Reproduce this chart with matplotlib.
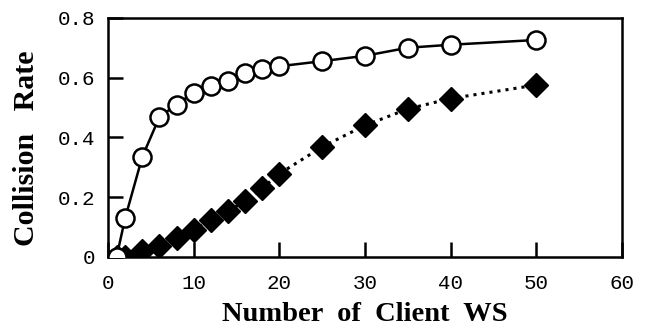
import matplotlib
matplotlib.use('Agg')
import matplotlib.pyplot as plt

# number of client workstations and measured collision rates
clients_open = [1, 2, 4, 6, 8, 10, 12, 14, 16, 18, 20, 25, 30, 35, 40, 50]
rate_open = [0.0, 0.13, 0.335, 0.468, 0.51, 0.55, 0.572, 0.59, 0.617, 0.628,
             0.638, 0.655, 0.673, 0.70, 0.71, 0.726]

clients_fill = [1, 2, 4, 6, 8, 10, 12, 14, 16, 18, 20, 25, 30, 35, 40, 50]
rate_fill = [0.0, 0.0, 0.02, 0.035, 0.062, 0.09, 0.125, 0.152, 0.187, 0.23,
             0.278, 0.368, 0.44, 0.495, 0.53, 0.575]

x_ticks = [0, 10, 20, 30, 40, 50, 60]
y_ticks = [0, 0.2, 0.4, 0.6, 0.8]
y_tick_labels = ['0', '0.2', '0.4', '0.6', '0.8']

fig = plt.figure(figsize=(6.47, 3.31), dpi=100)
ax = fig.add_axes([0.167, 0.224, 0.794, 0.722])

ax.plot(clients_fill, rate_fill, ls=':', lw=2.2, color='black', marker='D',
        ms=12, mfc='black', mec='black', zorder=3)
ax.plot(clients_open, rate_open, ls='-', lw=1.8, color='black', marker='o',
        ms=13, mfc='white', mec='black', mew=1.8, zorder=4)

ax.set_xlim(0, 60)
ax.set_ylim(0, 0.8)
ax.set_xticks(x_ticks)
ax.set_yticks(y_ticks)
ax.set_yticklabels(y_tick_labels)

for s in ax.spines.values():
    s.set_linewidth(1.8)
ax.tick_params(direction='in', length=11, width=1.8)
ax.tick_params(axis='x', pad=12)
ax.tick_params(axis='y', pad=9)
for lab in ax.get_xticklabels() + ax.get_yticklabels():
    lab.set_family('Liberation Mono')
    lab.set_fontsize(15)

ax.set_xlabel('Number  of  Client  WS', family='Liberation Serif',
              fontweight='bold', fontsize=20.5, labelpad=7)
ax.set_ylabel('Collision   Rate', family='Liberation Serif',
              fontweight='bold', fontsize=21.5)
ax.yaxis.set_label_coords(-0.132, 0.456)

plt.savefig('out.png', dpi=100)
